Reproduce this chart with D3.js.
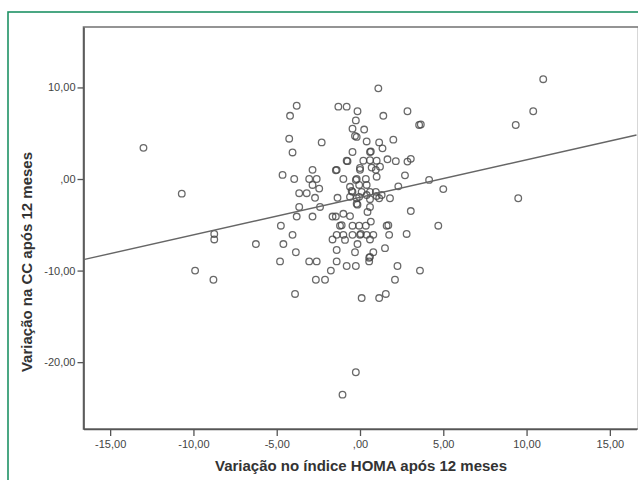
<!DOCTYPE html>
<html>
<head>
<meta charset="utf-8">
<script src="https://cdn.jsdelivr.net/npm/d3@7"></script>
<style>
  body { margin: 0; background: #fff; }
  text { font-family: "Liberation Sans", Arial, sans-serif; }
</style>
</head>
<body>
<div id="chart"></div>
<script>
// values (HOMA change vs CC change)
const homaChange = [
  1.1, -3.8, -1.3, -0.8, -4.2, -0.15, 1.4, 2.85, -0.25, -0.45,
  0.25, -0.3, -0.2, 0.4, 1.15, 1.35, 2.0, 3.55, 3.65, -4.25,
  -4.05, -2.3, -0.45, 0.6, 0.65, -0.8, -0.75, 0.2, 0.6, 1.0,
  1.65, 2.15, 2.85, 3.05, 1.2, -2.85, -1.4, -1.45, 0.0, 0.0,
  0.7, 0.95, -4.65, -3.95, -3.05, -2.6, -2.85, -2.45, -1.0, -0.2,
  -0.25, 1.0, 0.35, -0.05, 0.4, -0.6, -0.45, -0.5, 0.1, 0.6,
  0.95, 1.0, 2.7, 2.3, 4.15, 5.0, 3.05, -3.65, -3.2, -2.7,
  -1.35, -0.6, -0.2, 0.4, 0.6, 1.3, 1.8, -0.05, -3.65, -2.4,
  -0.2, -0.15, 0.6, -3.8, -2.85, -1.65, -1.45, -1.0, -0.6, 0.45,
  -4.75, -1.2, -1.1, -0.45, -0.05, 0.35, 0.65, 1.6, 1.7, -4.05,
  -1.4, -1.0, -0.45, 0.0, 0.05, 0.4, 0.8, 1.75, 2.8, -1.65,
  -0.9, 0.6, -0.15, -4.6, -1.4, -0.3, -3.85, 0.8, 1.5, 0.6,
  0.55, 0.55, -4.8, -3.05, -2.6, -1.4, -0.8, -0.25, 2.25, -1.75,
  3.6, 2.1, -2.65, -2.1, -3.9, 0.1, 1.15, 1.55, -0.25, -1.05,
  -13.0, -10.7, -8.75, -8.75, -6.25, -9.9, -8.8, 11.0, 10.4, 9.35,
  9.5, 4.7, 1.15
];
const ccChange = [
  9.9, 8.0, 7.9, 7.9, 6.9, 7.4, 6.9, 7.4, 6.4, 5.5,
  5.4, 4.7, 4.6, 4.1, 4.0, 3.35, 4.3, 5.9, 5.95, 4.4,
  2.9, 4.0, 2.95, 2.95, 3.0, 2.0, 1.95, 2.0, 2.05, 2.0,
  2.15, 1.95, 1.9, 2.2, 1.35, 1.0, 1.0, 0.95, 1.0, 1.2,
  1.25, 1.0, 0.45, 0.0, 0.0, 0.0, -0.65, -1.05, 0.0, 0.0,
  -0.1, 0.25, 0.0, -0.65, -0.65, -0.85, -1.4, -1.3, -1.4, -1.4,
  -1.4, -1.85, 0.4, -0.8, -0.1, -1.1, -3.5, -1.55, -1.55, -2.05,
  -2.05, -1.95, -2.1, -1.75, -2.2, -1.75, -2.1, -1.95, -3.05, -3.05,
  -2.7, -2.8, -3.05, -4.1, -4.1, -4.1, -4.1, -3.8, -4.05, -3.6,
  -5.1, -5.1, -5.05, -5.1, -5.1, -5.1, -4.65, -5.1, -5.05, -6.1,
  -6.1, -6.1, -6.1, -6.1, -6.0, -6.1, -6.1, -6.1, -6.0, -6.6,
  -6.65, -6.6, -7.1, -7.1, -7.75, -8.0, -8.0, -8.0, -7.55, -8.5,
  -8.6, -9.0, -9.0, -9.0, -9.0, -9.0, -9.5, -9.5, -9.5, -10.0,
  -10.0, -11.0, -11.0, -11.0, -12.55, -13.0, -13.0, -12.55, -21.1, -23.55,
  3.4, -1.6, -6.0, -6.6, -7.1, -10.0, -11.0, 10.9, 7.4, 5.9,
  -2.1, -5.1, -2.1
];
const xTicks = [-15, -10, -5, 0, 5, 10, 15];
const yTicks = [10, 0, -10, -20];
// linear fit drawn by SPSS
const fitIntercept = -2.0, fitSlope = 0.41;

const W = 638, H = 480;
const plot = { left: 83.5, top: 27, right: 636.5, bottom: 429 };

const svg = d3.select("#chart")
  .append("svg")
  .attr("width", W)
  .attr("height", H);

// green outer frame
svg.append("rect")
  .attr("x", 8).attr("y", 12)
  .attr("width", W).attr("height", H)
  .attr("fill", "none")
  .attr("stroke", "#1f9265")
  .attr("stroke-width", 1.6);

const x = d3.scaleLinear().domain([-16.6, 16.6]).range([plot.left, plot.right]);
const y = d3.scaleLinear().domain([-27.3, 16.6]).range([plot.bottom, plot.top]);

const fmt = d => d === 0 ? ",00" : d3.format(".2f")(d).replace(".", ",").replace("−", "-");

// plot frame
svg.append("rect")
  .attr("x", plot.left).attr("y", plot.top)
  .attr("width", plot.right - plot.left + 2).attr("height", plot.bottom - plot.top)
  .attr("fill", "#fff")
  .attr("stroke", "#7a7a7a")
  .attr("stroke-width", 1.6);

// Y axis
const yAxis = svg.append("g")
  .attr("transform", `translate(${plot.left},0)`)
  .call(d3.axisLeft(y).tickValues(yTicks).tickFormat(fmt).tickSize(6).tickSizeOuter(0));
yAxis.select(".domain").attr("stroke", "#555").attr("stroke-width", 1.6);
yAxis.selectAll(".tick line").attr("stroke", "#555").attr("stroke-width", 1.3);
yAxis.selectAll("text")
  .attr("x", -8)
  .style("font-size", "11px")
  .attr("fill", "#444");

// X axis
const xAxis = svg.append("g")
  .attr("transform", `translate(0,${plot.bottom})`)
  .call(d3.axisBottom(x).tickValues(xTicks).tickFormat(fmt).tickSize(7).tickSizeOuter(0));
xAxis.select(".domain").attr("stroke", "#555").attr("stroke-width", 1.6);
xAxis.selectAll(".tick line").attr("stroke", "#555").attr("stroke-width", 1.3);
xAxis.selectAll("text")
  .attr("y", 11)
  .style("font-size", "11px")
  .attr("fill", "#444");

// points
const pts = homaChange.map((d, i) => ({ x: d, y: ccChange[i] }));
svg.append("g")
  .selectAll("circle")
  .data(pts)
  .join("circle")
  .attr("cx", d => x(d.x))
  .attr("cy", d => y(d.y))
  .attr("r", 3.3)
  .attr("fill", "none")
  .attr("stroke", "#444")
  .attr("stroke-opacity", 0.8)
  .attr("stroke-width", 1.3);

// fit line
const xd = x.domain();
svg.append("line")
  .attr("x1", x(xd[0])).attr("y1", y(fitIntercept + fitSlope * xd[0]))
  .attr("x2", x(xd[1])).attr("y2", y(fitIntercept + fitSlope * xd[1]))
  .attr("stroke", "#666")
  .attr("stroke-width", 1.4);

// axis titles
svg.append("text")
  .attr("x", 361).attr("y", 471)
  .attr("text-anchor", "middle")
  .style("font-size", "15px")
  .style("font-weight", "bold")
  .attr("fill", "#333")
  .text("Variação no índice HOMA após 12 meses");

svg.append("text")
  .attr("transform", "translate(32,262)rotate(-90)")
  .attr("text-anchor", "middle")
  .style("font-size", "15px")
  .style("font-weight", "bold")
  .attr("fill", "#333")
  .text("Variação na CC após 12 meses");
</script>
</body>
</html>
